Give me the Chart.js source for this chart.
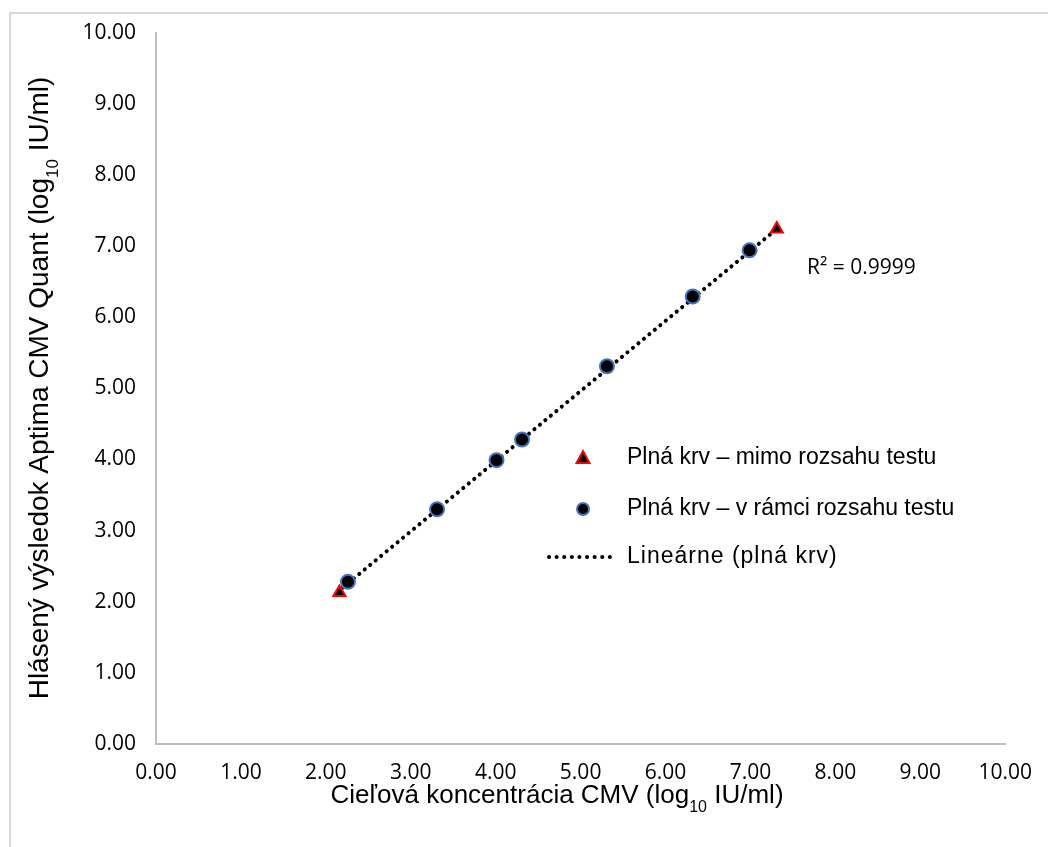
<!DOCTYPE html>
<html>
<head>
<meta charset="utf-8">
<script src="https://cdn.jsdelivr.net/npm/chart.js@4.4.0/dist/chart.umd.min.js"></script>
<style>
  body { margin: 0; background: #fff; }
  #wrap { position: relative; width: 1048px; height: 847px; overflow: hidden; }
  #frame { position: absolute; left: 9px; top: 12px; width: 1100px; height: 900px;
           border-left: 2px solid #d9d9d9; border-top: 2px solid #d9d9d9; }
  canvas { position: absolute; left: 0; top: 0; }
</style>
</head>
<body>
<div id="wrap">
  <div id="frame"></div>
  <canvas id="cmv_chart" width="1048" height="847"></canvas>
</div>
<script>
// out of range samples (triangles)
const outX = [2.16, 7.31];
const outY = [2.13, 7.24];
// in range samples (circles)
const inX = [2.26, 3.31, 4.01, 4.31, 5.31, 6.32, 6.99];
const inY = [2.28, 3.30, 3.99, 4.28, 5.31, 6.29, 6.94];
// trendline ends
const trendX = [2.2, 7.31];
const trendY = [2.2, 7.24];
const r2 = '0.9999';

const legendLabels = [
  'Plná krv – mimo rozsahu testu',
  'Plná krv – v rámci rozsahu testu',
  'Lineárne (plná krv)'
];

function pts(xs, ys) {
  return xs.map((x, i) => ({x: x, y: ys[i]}));
}

const tickFont = {family: '"Open Sans"', size: 21};

// draws axis titles (with subscript), legend and R² text
const extras = {
  id: 'extras',
  afterDraw(chart) {
    const ctx = chart.ctx;
    ctx.save();
    ctx.fillStyle = '#000';
    ctx.textBaseline = 'alphabetic';

    function subTitle(pre, sub, post, size) {
      const subSize = Math.round(size * 0.6);
      ctx.font = size + 'px "Liberation Sans"';
      const w1 = ctx.measureText(pre).width;
      const w3 = ctx.measureText(post).width;
      ctx.font = subSize + 'px "Liberation Sans"';
      const w2 = ctx.measureText(sub).width;
      let x = -(w1 + w2 + w3) / 2;
      ctx.font = size + 'px "Liberation Sans"';
      ctx.fillText(pre, x, 0);
      x += w1;
      ctx.font = subSize + 'px "Liberation Sans"';
      ctx.fillText(sub, x, size * 0.35);
      x += w2;
      ctx.font = size + 'px "Liberation Sans"';
      ctx.fillText(post, x, 0);
    }

    // x title
    ctx.save();
    ctx.translate(557, 803);
    subTitle('Cieľová koncentrácia CMV (log', '10', ' IU/ml)', 26);
    ctx.restore();

    // y title
    ctx.save();
    ctx.translate(48, 388);
    ctx.rotate(-Math.PI / 2);
    subTitle('Hlásený výsledok Aptima CMV Quant (log', '10', ' IU/ml)', 28);
    ctx.restore();

    // R²
    ctx.font = '21px "Open Sans"';
    ctx.fillText('R² = ' + r2, 807, 274);

    // legend
    const mx = 583, tx = 627;
    const rows = [458, 509, 557];
    // triangle
    ctx.beginPath();
    ctx.moveTo(mx, rows[0] - 7);
    ctx.lineTo(mx + 6.5, rows[0] + 5);
    ctx.lineTo(mx - 6.5, rows[0] + 5);
    ctx.closePath();
    ctx.fillStyle = '#000';
    ctx.fill();
    ctx.strokeStyle = '#ff0000';
    ctx.lineWidth = 2;
    ctx.stroke();
    // circle
    ctx.beginPath();
    ctx.arc(mx, rows[1], 6, 0, Math.PI * 2);
    ctx.fill();
    ctx.strokeStyle = '#4472c4';
    ctx.stroke();
    // dotted line
    ctx.beginPath();
    ctx.setLineDash([0.1, 7.5]);
    ctx.lineCap = 'round';
    ctx.lineWidth = 4;
    ctx.strokeStyle = '#000';
    ctx.moveTo(549, rows[2]);
    ctx.lineTo(617, rows[2]);
    ctx.stroke();
    ctx.setLineDash([]);

    ctx.fillStyle = '#000';
    ctx.textBaseline = 'middle';
    ctx.font = '23px "Liberation Sans"';
    ctx.fillText(legendLabels[0], tx, rows[0]);
    ctx.fillText(legendLabels[1], tx, rows[1]);
    ctx.letterSpacing = '1px';
    ctx.fillText(legendLabels[2], tx, rows[2]);
    ctx.letterSpacing = '0px';
    ctx.restore();
  }
};

const config = {
  type: 'scatter',
  data: {
    datasets: [{
      label: legendLabels[0],
      data: pts(outX, outY),
      pointStyle: 'triangle',
      pointRadius: 7,
      backgroundColor: '#000',
      borderColor: '#ff0000',
      borderWidth: 2,
      order: 1
    }, {
      label: legendLabels[1],
      data: pts(inX, inY),
      pointStyle: 'circle',
      pointRadius: 7,
      backgroundColor: '#000',
      borderColor: '#4472c4',
      borderWidth: 2,
      order: 1
    }, {
      label: legendLabels[2],
      type: 'line',
      data: pts(trendX, trendY),
      showLine: true,
      borderColor: '#000',
      borderWidth: 4,
      borderDash: [0.1, 7],
      borderCapStyle: 'round',
      pointRadius: 0,
      fill: false,
      order: 2
    }]
  },
  options: {
    responsive: false,
    animation: false,
    events: [],
    layout: {
      padding: {left: 0, top: 32, right: 42, bottom: 0}
    },
    plugins: {
      legend: {display: false},
      tooltip: {enabled: false}
    },
    scales: {
      x: {
        type: 'linear',
        min: 0,
        max: 10,
        ticks: {
          stepSize: 1,
          color: '#000',
          font: tickFont,
          padding: 16,
          maxRotation: 0,
          callback: v => v.toFixed(2)
        },
        grid: {display: true, drawOnChartArea: false, drawTicks: false},
        border: {display: true, color: '#bfbfbf', width: 2},
        afterFit(scale) { scale.height = 847 - 744; }
      },
      y: {
        type: 'linear',
        min: 0,
        max: 10,
        ticks: {
          stepSize: 1,
          color: '#000',
          font: tickFont,
          padding: 20,
          callback: v => v.toFixed(2)
        },
        grid: {display: true, drawOnChartArea: false, drawTicks: false},
        border: {display: true, color: '#bfbfbf', width: 2},
        afterFit(scale) { scale.width = 156; }
      }
    }
  },
  plugins: [extras]
};

const cmv_chart = new Chart(document.getElementById('cmv_chart'), config);
</script>
</body>
</html>
